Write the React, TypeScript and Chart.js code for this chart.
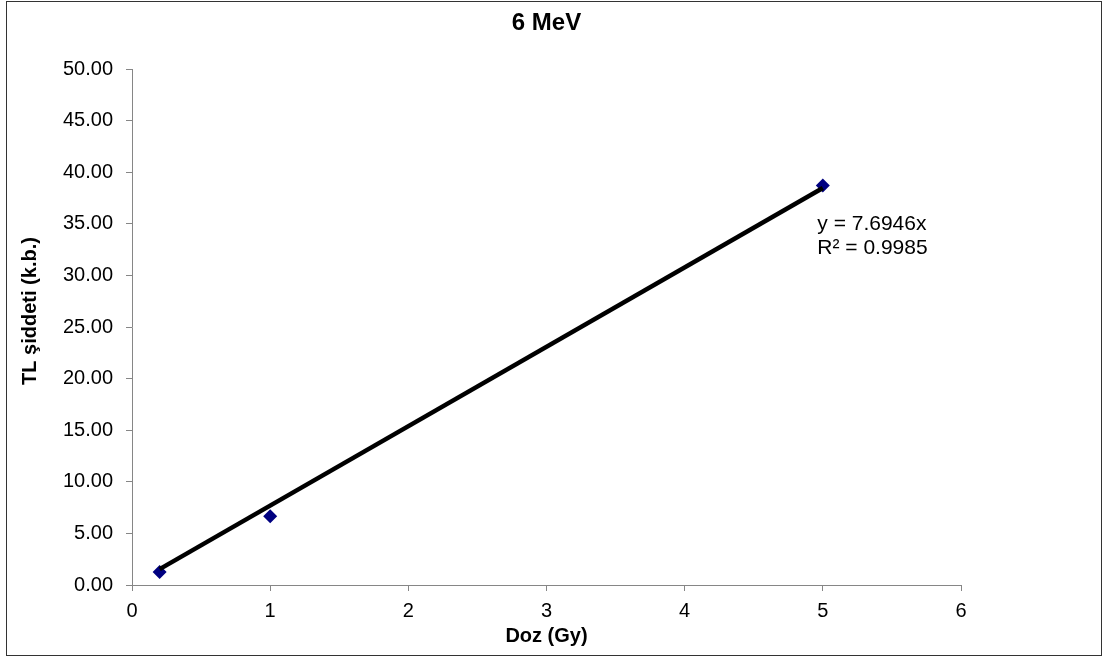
import { useEffect, useRef } from "react";
import { Chart, registerables } from "chart.js";

Chart.register(...registerables);

// ---- data ----
const doseGy = [0.2, 1, 5];
const tlIntensity = [1.25, 6.65, 38.7];
const trendSlope = 7.6946;
const rSquared = 0.9985;
const trendRange = [0.2, 5];
const xAxisRange = [0, 6];
const yAxisRange = [0, 50];
const yTickStep = 5;
const xTickStep = 1;
const chartTitle = "6 MeV";
const xTitle = "Doz (Gy)";
const yTitle = "TL şiddeti (k.b.)";

const FONT = "'Liberation Sans', Arial, Helvetica, sans-serif";
const AXIS_GRAY = "#868686";

export default function App() {
  const ref = useRef<HTMLCanvasElement | null>(null);

  useEffect(() => {
    document.body.style.margin = "0";
    const canvas = ref.current;
    if (!canvas) return;

    const overlayPlugin = {
      id: "overlayText",
      afterDatasetsDraw(chart: any) {
        const { ctx, chartArea, scales } = chart;
        ctx.save();
        // trendline equation
        ctx.fillStyle = "#000";
        ctx.font = `21px ${FONT}`;
        ctx.textAlign = "left";
        ctx.textBaseline = "middle";
        const ax = scales.x.getPixelForValue(4.96);
        const ay = scales.y.getPixelForValue(35.0);
        ctx.fillText(`y = ${trendSlope.toFixed(4)}x`, ax, ay);
        ctx.fillText(`R² = ${rSquared.toFixed(4)}`, ax, ay + 24);
        // y axis title
        ctx.font = `bold 20px ${FONT}`;
        ctx.textAlign = "center";
        ctx.translate(chartArea.left - 102, (chartArea.top + chartArea.bottom) / 2 - 16);
        ctx.rotate(-Math.PI / 2);
        ctx.fillText(yTitle, 0, 0);
        ctx.restore();
      },
    };

    const chart = new Chart(canvas, {
      type: "scatter",
      data: {
        datasets: [
          {
            label: "Trend",
            data: trendRange.map((x) => ({ x, y: trendSlope * x })),
            showLine: true,
            borderColor: "#000",
            backgroundColor: "#000",
            borderWidth: 4.5,
            pointRadius: 0,
            pointHoverRadius: 0,
          },
          {
            label: chartTitle,
            data: doseGy.map((x, i) => ({ x, y: tlIntensity[i] })),
            pointStyle: "rectRot",
            pointRadius: 7,
            pointHoverRadius: 7,
            backgroundColor: "#000080",
            borderColor: "#000080",
            borderWidth: 0,
            showLine: false,
          },
        ],
      },
      options: {
        responsive: false,
        animation: false,
        layout: { padding: { left: 0, right: 142, top: 0, bottom: 0 } },
        plugins: {
          legend: { display: false },
          tooltip: { enabled: false },
          title: {
            display: true,
            text: chartTitle,
            fullSize: false,
            color: "#000",
            font: { family: FONT, size: 24, weight: "bold" },
            padding: { top: 8.6, bottom: 31.6 },
          },
        },
        scales: {
          x: {
            type: "linear",
            min: xAxisRange[0],
            max: xAxisRange[1],
            ticks: {
              stepSize: xTickStep,
              color: "#000",
              font: { family: FONT, size: 20 },
              padding: 8,
            },
            grid: {
              display: true,
              drawOnChartArea: false,
              drawTicks: true,
              tickLength: 6,
              color: AXIS_GRAY,
            },
            border: { display: true, color: AXIS_GRAY, width: 1 },
            title: {
              display: true,
              text: xTitle,
              color: "#000",
              font: { family: FONT, size: 20, weight: "bold" },
              padding: { top: 0, bottom: 11 },
            },
            afterFit: (s: any) => {
              s.height = 74;
            },
          },
          y: {
            type: "linear",
            min: yAxisRange[0],
            max: yAxisRange[1],
            ticks: {
              stepSize: yTickStep,
              color: "#000",
              font: { family: FONT, size: 20 },
              padding: 13,
              callback: (v: any) => Number(v).toFixed(2),
            },
            grid: {
              display: true,
              drawOnChartArea: false,
              drawTicks: true,
              tickLength: 6,
              color: AXIS_GRAY,
            },
            border: { display: true, color: AXIS_GRAY, width: 1 },
            afterFit: (s: any) => {
              s.width = 132;
            },
          },
        },
      },
      plugins: [overlayPlugin],
    } as any);

    return () => chart.destroy();
  }, []);

  return (
    <div style={{ position: "relative", width: 1103, height: 659, background: "#fff" }}>
      <div
        style={{
          position: "absolute",
          left: 6,
          top: 1,
          width: 1096,
          height: 655,
          border: "1px solid #333",
          boxSizing: "border-box",
        }}
      />
      <canvas
        ref={ref}
        width={1103}
        height={659}
        style={{ position: "absolute", left: 0, top: 0, width: 1103, height: 659 }}
      />
    </div>
  );
}
